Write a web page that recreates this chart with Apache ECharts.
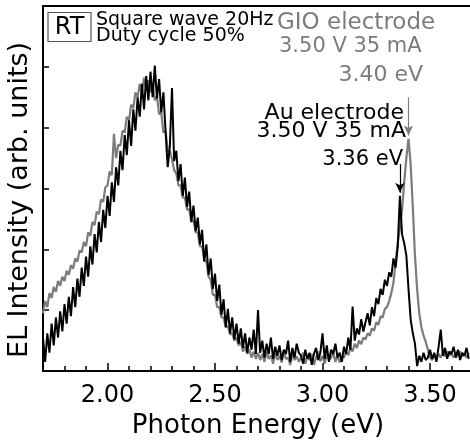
<!DOCTYPE html>
<html>
<head>
<meta charset="utf-8">
<script src="https://cdn.jsdelivr.net/npm/echarts@6/dist/echarts.min.js"></script>
<style>
  html, body { margin: 0; padding: 0; background: #fff; }
  #chart { width: 470px; height: 441px; }
</style>
</head>
<body>
<div id="chart"></div>
<script>
// Spectrometer sampling grid (eV)
const energyStart = 1.70;
const energyStep = 0.01;

// EL spectrum, Au electrode (3.50 V, 35 mA), 1.70 ... 3.68 eV
const auIntensity = [
  0.55, 0.15, 0.62, 0.30, 0.78, 0.42, 0.88, 0.55, 0.98, 0.65,
  1.10, 0.78, 1.22, 0.90, 1.38, 1.05, 1.52, 1.22, 1.70, 1.40,
  1.88, 1.55, 2.05, 1.75, 2.25, 1.95, 2.45, 2.12, 2.65, 2.35,
  2.88, 2.55, 3.10, 2.78, 3.35, 3.05, 3.62, 3.30, 3.88, 3.55,
  4.12, 3.70, 4.30, 3.95, 4.50, 4.18, 4.72, 4.30, 4.85, 4.45,
  4.92, 4.50, 5.02, 4.48, 4.80, 4.25, 4.58, 3.95, 3.35, 3.70,
  4.65, 3.45, 3.62, 3.12, 3.40, 2.88, 3.18, 2.70, 2.95, 2.45,
  2.72, 2.30, 2.52, 2.08, 2.32, 1.80, 2.08, 1.58, 1.85, 1.35,
  1.60, 1.15, 1.42, 0.92, 1.18, 0.72, 1.02, 0.62, 0.88, 0.52,
  0.78, 0.45, 0.70, 0.38, 0.62, 0.30, 0.55, 0.35, 0.68, 0.28,
  1.00, 0.30, 0.50, 0.22, 0.45, 0.28, 0.55, 0.20, 0.40, 0.25,
  0.42, 0.18, 0.35, 0.28, 0.50, 0.15, 0.38, 0.22, 0.45, 0.30,
  0.25, 0.12, 0.35, 0.20, 0.30, 0.10, 0.28, 0.38, 0.18, 0.30,
  0.62, 0.20, 0.42, 0.15, 0.35, 0.28, 0.45, 0.22, 0.30, 0.15,
  0.40, 0.28, 0.55, 0.35, 1.06, 0.50, 0.70, 0.60, 0.85, 0.65,
  0.80, 0.95, 0.75, 1.05, 0.90, 1.20, 1.10, 1.35, 1.25, 1.50,
  1.40, 1.62, 1.55, 1.85, 1.70, 2.05, 2.88, 2.25, 2.10, 1.90,
  1.35, 0.85, 0.62, 0.45, 0.08, 0.25, 0.15, 0.30, 0.18, 0.22,
  0.35, 0.20, 0.30, 0.15, 0.40, 0.68, 0.25, 0.38, 0.20, 0.32,
  0.28, 0.40, 0.22, 0.35, 0.18, 0.30, 0.25, 0.38, 0.20
];

// EL spectrum, GIO electrode (3.50 V, 35 mA), 1.70 ... 3.68 eV
const gioIntensity = [
  0.95, 1.15, 1.05, 1.28, 1.20, 1.38, 1.30, 1.48, 1.40, 1.55,
  1.48, 1.65, 1.58, 1.74, 1.68, 1.85, 1.80, 1.98, 1.95, 2.12,
  2.05, 2.28, 2.22, 2.45, 2.40, 2.62, 2.58, 2.82, 2.78, 3.02,
  3.05, 3.28, 3.22, 3.90, 3.50, 3.72, 3.70, 3.95, 3.92, 4.18,
  4.12, 4.38, 4.32, 4.58, 4.50, 4.72, 4.58, 4.82, 4.62, 4.78,
  4.58, 4.70, 4.45, 4.52, 4.22, 4.25, 3.92, 3.95, 3.62, 3.62,
  3.48, 3.30, 3.25, 3.05, 3.05, 2.85, 2.85, 2.65, 2.66, 2.45,
  2.48, 2.28, 2.28, 2.05, 2.05, 1.82, 1.80, 1.55, 1.50, 1.25,
  1.25, 1.05, 1.05, 0.88, 0.88, 0.72, 0.74, 0.60, 0.62, 0.50,
  0.55, 0.42, 0.48, 0.32, 0.40, 0.28, 0.35, 0.22, 0.32, 0.20,
  0.30, 0.18, 0.28, 0.15, 0.32, 0.20, 0.26, 0.12, 0.30, 0.18,
  0.25, 0.14, 0.30, 0.20, 0.22, 0.10, 0.28, 0.18, 0.24, 0.15,
  0.22, 0.30, 0.12, 0.25, 0.18, 0.28, 0.10, 0.22, 0.32, 0.16,
  0.25, 0.12, 0.28, 0.18, 0.22, 0.30, 0.15, 0.26, 0.14, 0.24,
  0.22, 0.32, 0.26, 0.38, 0.32, 0.45, 0.38, 0.50, 0.44, 0.55,
  0.52, 0.62, 0.58, 0.70, 0.66, 0.80, 0.76, 0.90, 0.88, 1.02,
  1.05, 1.15, 1.28, 1.45, 1.80, 2.10, 2.35, 2.65, 3.10, 3.50,
  3.82, 3.40, 2.70, 1.90, 1.35, 0.95, 0.72, 0.58, 0.48, 0.35,
  0.22, 0.18, 0.25, 0.20, 0.28, 0.22, 0.30, 0.24, 0.32, 0.26,
  0.28, 0.22, 0.30, 0.25, 0.32, 0.24, 0.28, 0.22, 0.30
];

// Axis ticks
const xTickValues = [2.00, 2.50, 3.00, 3.50];
const yTickValues = [1, 2, 3, 4, 5];

// Peak markers: [energy, arrow start, arrow tip]
const auPeakArrow = [3.36, 3.40, 2.93];
const gioPeakArrow = [3.40, 4.50, 3.87];

const GREY = '#7c7c7c';
const FONT = 'DejaVu Sans';

function toPairs(values) {
  return values.map((v, i) => [Number((energyStart + i * energyStep).toFixed(2)), v]);
}

function arrowLine(arrow, color) {
  return {
    silent: true,
    animation: false,
    symbol: ['none', 'arrow'],
    symbolSize: [7, 10],
    label: { show: false },
    lineStyle: { color: color, width: 1.2, type: 'solid' },
    data: [[{ coord: [arrow[0], arrow[1]] }, { coord: [arrow[0], arrow[2]] }]]
  };
}

function text(str, x, y, size, color, align) {
  return {
    type: 'text', x: x, y: y, silent: true,
    style: {
      text: str, fill: color, fontSize: size, fontFamily: FONT,
      align: align || 'left', verticalAlign: 'middle'
    }
  };
}

const chart = echarts.init(document.getElementById('chart'), null, { renderer: 'canvas' });

chart.setOption({
  animation: false,
  backgroundColor: '#fff',
  grid: { left: 43, top: 6, width: 430, height: 365, containLabel: false, outerBoundsMode: 'none' },
  xAxis: [
    {
      type: 'value', min: 1.70, max: 3.70, position: 'bottom',
      axisLine: { lineStyle: { color: '#000', width: 2 } },
      axisTick: { inside: true, length: 8, customValues: xTickValues, lineStyle: { color: '#000', width: 1.5 } },
      axisLabel: {
        customValues: xTickValues, formatter: v => v.toFixed(2),
        fontSize: 24, fontFamily: FONT, color: '#000', margin: 13
      },
      splitLine: { show: false },
      name: 'Photon Energy (eV)', nameLocation: 'middle', nameGap: 41,
      nameTextStyle: { fontSize: 26, fontFamily: FONT, color: '#000' }
    },
    {
      type: 'value', min: 1.70, max: 3.70, interval: 0.1, position: 'bottom',
      axisLine: { show: false },
      axisTick: { inside: true, length: 5, lineStyle: { color: '#000', width: 1.5 } },
      axisLabel: { show: false },
      splitLine: { show: false }
    },
    {
      type: 'value', min: 1.70, max: 3.70, position: 'top',
      axisLine: { lineStyle: { color: '#000', width: 2 } },
      axisTick: { show: false }, axisLabel: { show: false }, splitLine: { show: false }
    }
  ],
  yAxis: {
    type: 'value', min: 0, max: 6,
    axisLine: { lineStyle: { color: '#000', width: 2 } },
    axisTick: { inside: true, length: 6, customValues: yTickValues, lineStyle: { color: '#000', width: 1.5 } },
    axisLabel: { show: false },
    splitLine: { show: false }
  },
  series: [
    {
      type: 'line', name: 'GIO electrode', data: toPairs(gioIntensity),
      symbol: 'none', showSymbol: false, clip: true,
      lineStyle: { color: GREY, width: 2.2 }, itemStyle: { color: GREY },
      markLine: arrowLine(gioPeakArrow, GREY)
    },
    {
      type: 'line', name: 'Au electrode', data: toPairs(auIntensity),
      symbol: 'none', showSymbol: false, clip: true,
      lineStyle: { color: '#000', width: 2 }, itemStyle: { color: '#000' },
      markLine: arrowLine(auPeakArrow, '#000')
    }
  ],
  graphic: [
    {
      type: 'rect', silent: true,
      shape: { x: 48, y: 12.5, width: 43, height: 29 },
      style: { fill: 'none', stroke: '#555', lineWidth: 1.2 }
    },
    text('RT', 69.5, 28, 24, '#000', 'center'),
    text('Square wave 20Hz', 96, 20, 19, '#000'),
    text('Duty cycle 50%', 96, 36, 19, '#000'),
    text('GIO electrode', 277, 23, 23, GREY),
    text('3.50 V 35 mA', 279, 47, 21, GREY),
    text('3.40 eV', 423, 75, 22, GREY, 'right'),
    text('Au electrode', 404, 113, 22, '#000', 'right'),
    text('3.50 V 35 mA', 406, 131, 22, '#000', 'right'),
    text('3.36 eV', 403, 160, 21, '#000', 'right'),
    {
      type: 'text', x: 20, y: 200, rotation: Math.PI / 2, silent: true,
      style: {
        text: 'EL Intensity (arb. units)', fill: '#000', fontSize: 27, fontFamily: FONT,
        align: 'center', verticalAlign: 'middle'
      }
    }
  ]
});
</script>
</body>
</html>
